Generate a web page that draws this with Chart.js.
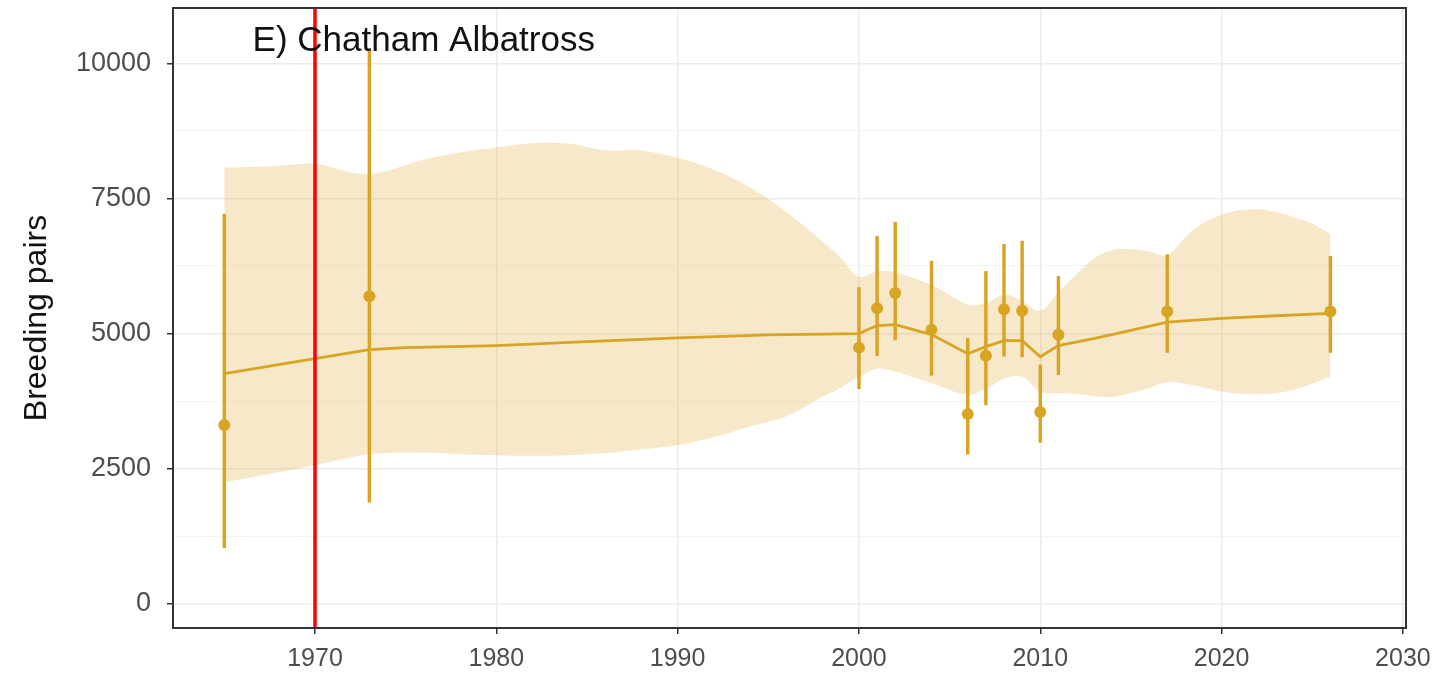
<!DOCTYPE html>
<html>
<head>
<meta charset="utf-8">
<script src="https://cdn.jsdelivr.net/npm/chart.js@4.4.1/dist/chart.umd.min.js"></script>
<style>
    html, body { margin: 0; padding: 0; background: #fff; }
    #wrap { width: 1436px; height: 674px; position: relative; }
</style>
</head>
<body>
<div id="wrap"><canvas id="popChart"></canvas></div>
<script>
// observed counts with error bars
const obsYears = [1965, 1973, 2000, 2001, 2002, 2004, 2006, 2007, 2008, 2009, 2010, 2011, 2017, 2026];
const obsPairs = [3310, 5690, 4740, 5470, 5750, 5070, 3510, 4590, 5450, 5420, 3550, 4980, 5410, 5410];
const obsLower = [1040, 1880, 3980, 4590, 4880, 4230, 2770, 3680, 4580, 4570, 2990, 4240, 4650, 4650];
const obsUpper = [7210, 10240, 5850, 6800, 7060, 6340, 4910, 6150, 6650, 6710, 4420, 6060, 6460, 6430];

// fitted trend
const trendYears = [1965, 1970, 1973, 1975, 1980, 1985, 1990, 1995, 2000, 2001, 2002, 2004, 2006, 2007, 2008, 2009, 2010, 2011, 2013, 2015, 2017, 2020, 2023, 2026];
const trendPairs = [4257, 4535, 4703, 4740, 4777, 4851, 4920, 4975, 5000, 5149, 5167, 4981, 4628, 4758, 4870, 4870, 4572, 4777, 4910, 5060, 5210, 5280, 5330, 5372];

// credible band around the trend
const bandYears = [1965, 1968, 1970, 1972, 1973, 1974, 1976, 1978, 1980, 1982, 1984, 1986, 1988, 1990, 1992, 1994, 1996, 1998, 1999, 2000, 2001, 2002, 2004, 2006, 2007, 2008, 2009, 2010, 2011, 2012, 2013, 2014, 2015, 2016, 2017, 2018, 2019, 2020, 2021, 2022, 2023, 2024, 2025, 2026];
const bandUpper = [8070, 8100, 8140, 7980, 7955, 8010, 8220, 8350, 8440, 8520, 8510, 8390, 8380, 8250, 8030, 7700, 7250, 6700, 6400, 6050, 6150, 6130, 5900, 5540, 5560, 5720, 5600, 5420, 5760, 6100, 6400, 6550, 6560, 6520, 6450, 6780, 7050, 7200, 7280, 7300, 7250, 7150, 7030, 6840];
const bandLower = [2250, 2435, 2565, 2714, 2770, 2790, 2800, 2770, 2750, 2740, 2750, 2790, 2860, 2935, 3080, 3280, 3470, 3830, 4000, 4200, 4350, 4300, 4080, 3866, 3978, 4164, 4200, 3922, 3900, 3880, 3840, 3830, 3900, 3990, 4100, 4070, 4000, 3930, 3890, 3880, 3900, 3960, 4070, 4200];

const markerYear = 1970;
const panelLabel = 'E) Chatham Albatross';
const yTickValues = [0, 1250, 2500, 3750, 5000, 6250, 7500, 8750, 10000];
const yTickLabels = ['0', '', '2500', '', '5000', '', '7500', '', '10000'];
const xTickValues = [1970, 1980, 1990, 2000, 2010, 2020, 2030];
const xTickLabels = ['1970', '1980', '1990', '2000', '2010', '2020', '2030'];

const gold = '#d9a423';
const band = 'rgba(222, 170, 50, 0.27)';

const pts = (xs, ys) => xs.map((x, i) => ({ x: x, y: ys[i] }));

const panelPlugin = {
    id: 'panel',
    afterDraw(chart) {
        const { ctx, chartArea: a, scales } = chart;
        ctx.save();
        ctx.strokeStyle = '#333';
        ctx.lineWidth = 2;
        ctx.strokeRect(a.left, a.top, a.right - a.left, a.bottom - a.top);
        ctx.fillStyle = '#111';
        ctx.font = '35px "Liberation Sans", Arial, sans-serif';
        ctx.textAlign = 'center';
        ctx.textBaseline = 'middle';
        ctx.fillText(panelLabel, scales.x.getPixelForValue(1976), scales.y.getPixelForValue(10400));
        ctx.restore();
    }
};

new Chart(document.getElementById('popChart'), {
    type: 'line',
    data: {
        datasets: [
            {
                label: 'upper',
                data: pts(bandYears, bandUpper),
                borderWidth: 0,
                pointRadius: 0,
                backgroundColor: band,
                fill: '+1',
                tension: 0.35,
                order: 6
            },
            {
                label: 'lower',
                data: pts(bandYears, bandLower),
                borderWidth: 0,
                pointRadius: 0,
                fill: false,
                tension: 0.35,
                order: 6
            },
            {
                label: 'trend',
                data: pts(trendYears, trendPairs),
                borderColor: gold,
                borderWidth: 2.8,
                pointRadius: 0,
                fill: false,
                tension: 0,
                order: 4
            },
            {
                type: 'bar',
                label: 'range',
                data: obsYears.map((x, i) => ({ x: x, y: [obsLower[i], obsUpper[i]] })),
                backgroundColor: gold,
                barThickness: 2.8,
                order: 3
            },
            {
                label: 'counts',
                data: pts(obsYears, obsPairs),
                showLine: false,
                pointRadius: 6,
                pointBackgroundColor: gold,
                pointBorderWidth: 0,
                order: 2
            },
            {
                label: 'marker',
                data: [{ x: markerYear, y: -2000 }, { x: markerYear, y: 13000 }],
                borderColor: '#ff0000',
                borderWidth: 3.5,
                pointRadius: 0,
                fill: false,
                order: 1
            }
        ]
    },
    options: {
        responsive: true,
        maintainAspectRatio: false,
        animation: false,
        layout: { padding: { top: 8, right: 30, left: 0, bottom: 0 } },
        plugins: {
            legend: { display: false },
            tooltip: { enabled: false }
        },
        scales: {
            x: {
                type: 'linear',
                min: 1962.17,
                max: 2030.17,
                offset: false,
                afterBuildTicks: s => { s.ticks = xTickValues.map(v => ({ value: v })); },
                afterFit: s => { s.height = 46; s.paddingLeft = 0; s.paddingRight = 0; },
                border: { display: false },
                grid: {
                    offset: false,
                    color: '#ebebeb',
                    lineWidth: 1.5,
                    tickColor: '#333',
                    tickLength: 6,
                    tickWidth: 1.5
                },
                ticks: {
                    color: '#4d4d4d',
                    font: { family: '"Liberation Sans", Arial, sans-serif', size: 25 },
                    padding: 10,
                    maxRotation: 0,
                    autoSkip: false,
                    callback: (v, i) => xTickLabels[i]
                }
            },
            y: {
                min: -446,
                max: 11022,
                afterBuildTicks: s => { s.ticks = yTickValues.map(v => ({ value: v })); },
                afterFit: s => { s.width = 173; s.paddingTop = 0; s.paddingBottom = 0; },
                border: { display: false },
                grid: {
                    color: c => (c.index % 2 === 0 ? '#ebebeb' : '#f4f4f4'),
                    lineWidth: c => (c.index % 2 === 0 ? 1.5 : 1),
                    tickColor: c => (c.index % 2 === 0 ? '#333' : 'rgba(0,0,0,0)'),
                    tickLength: 6,
                    tickWidth: 1.5
                },
                ticks: {
                    color: '#4d4d4d',
                    font: { family: '"Liberation Sans", Arial, sans-serif', size: 27 },
                    padding: 16,
                    autoSkip: false,
                    callback: (v, i) => yTickLabels[i]
                },
                title: {
                    display: true,
                    text: 'Breeding pairs',
                    color: '#111',
                    font: { family: '"Liberation Sans", Arial, sans-serif', size: 32, lineHeight: 1.2 },
                    padding: { top: 18, bottom: 0 }
                }
            }
        }
    },
    plugins: [panelPlugin]
});
</script>
</body>
</html>
